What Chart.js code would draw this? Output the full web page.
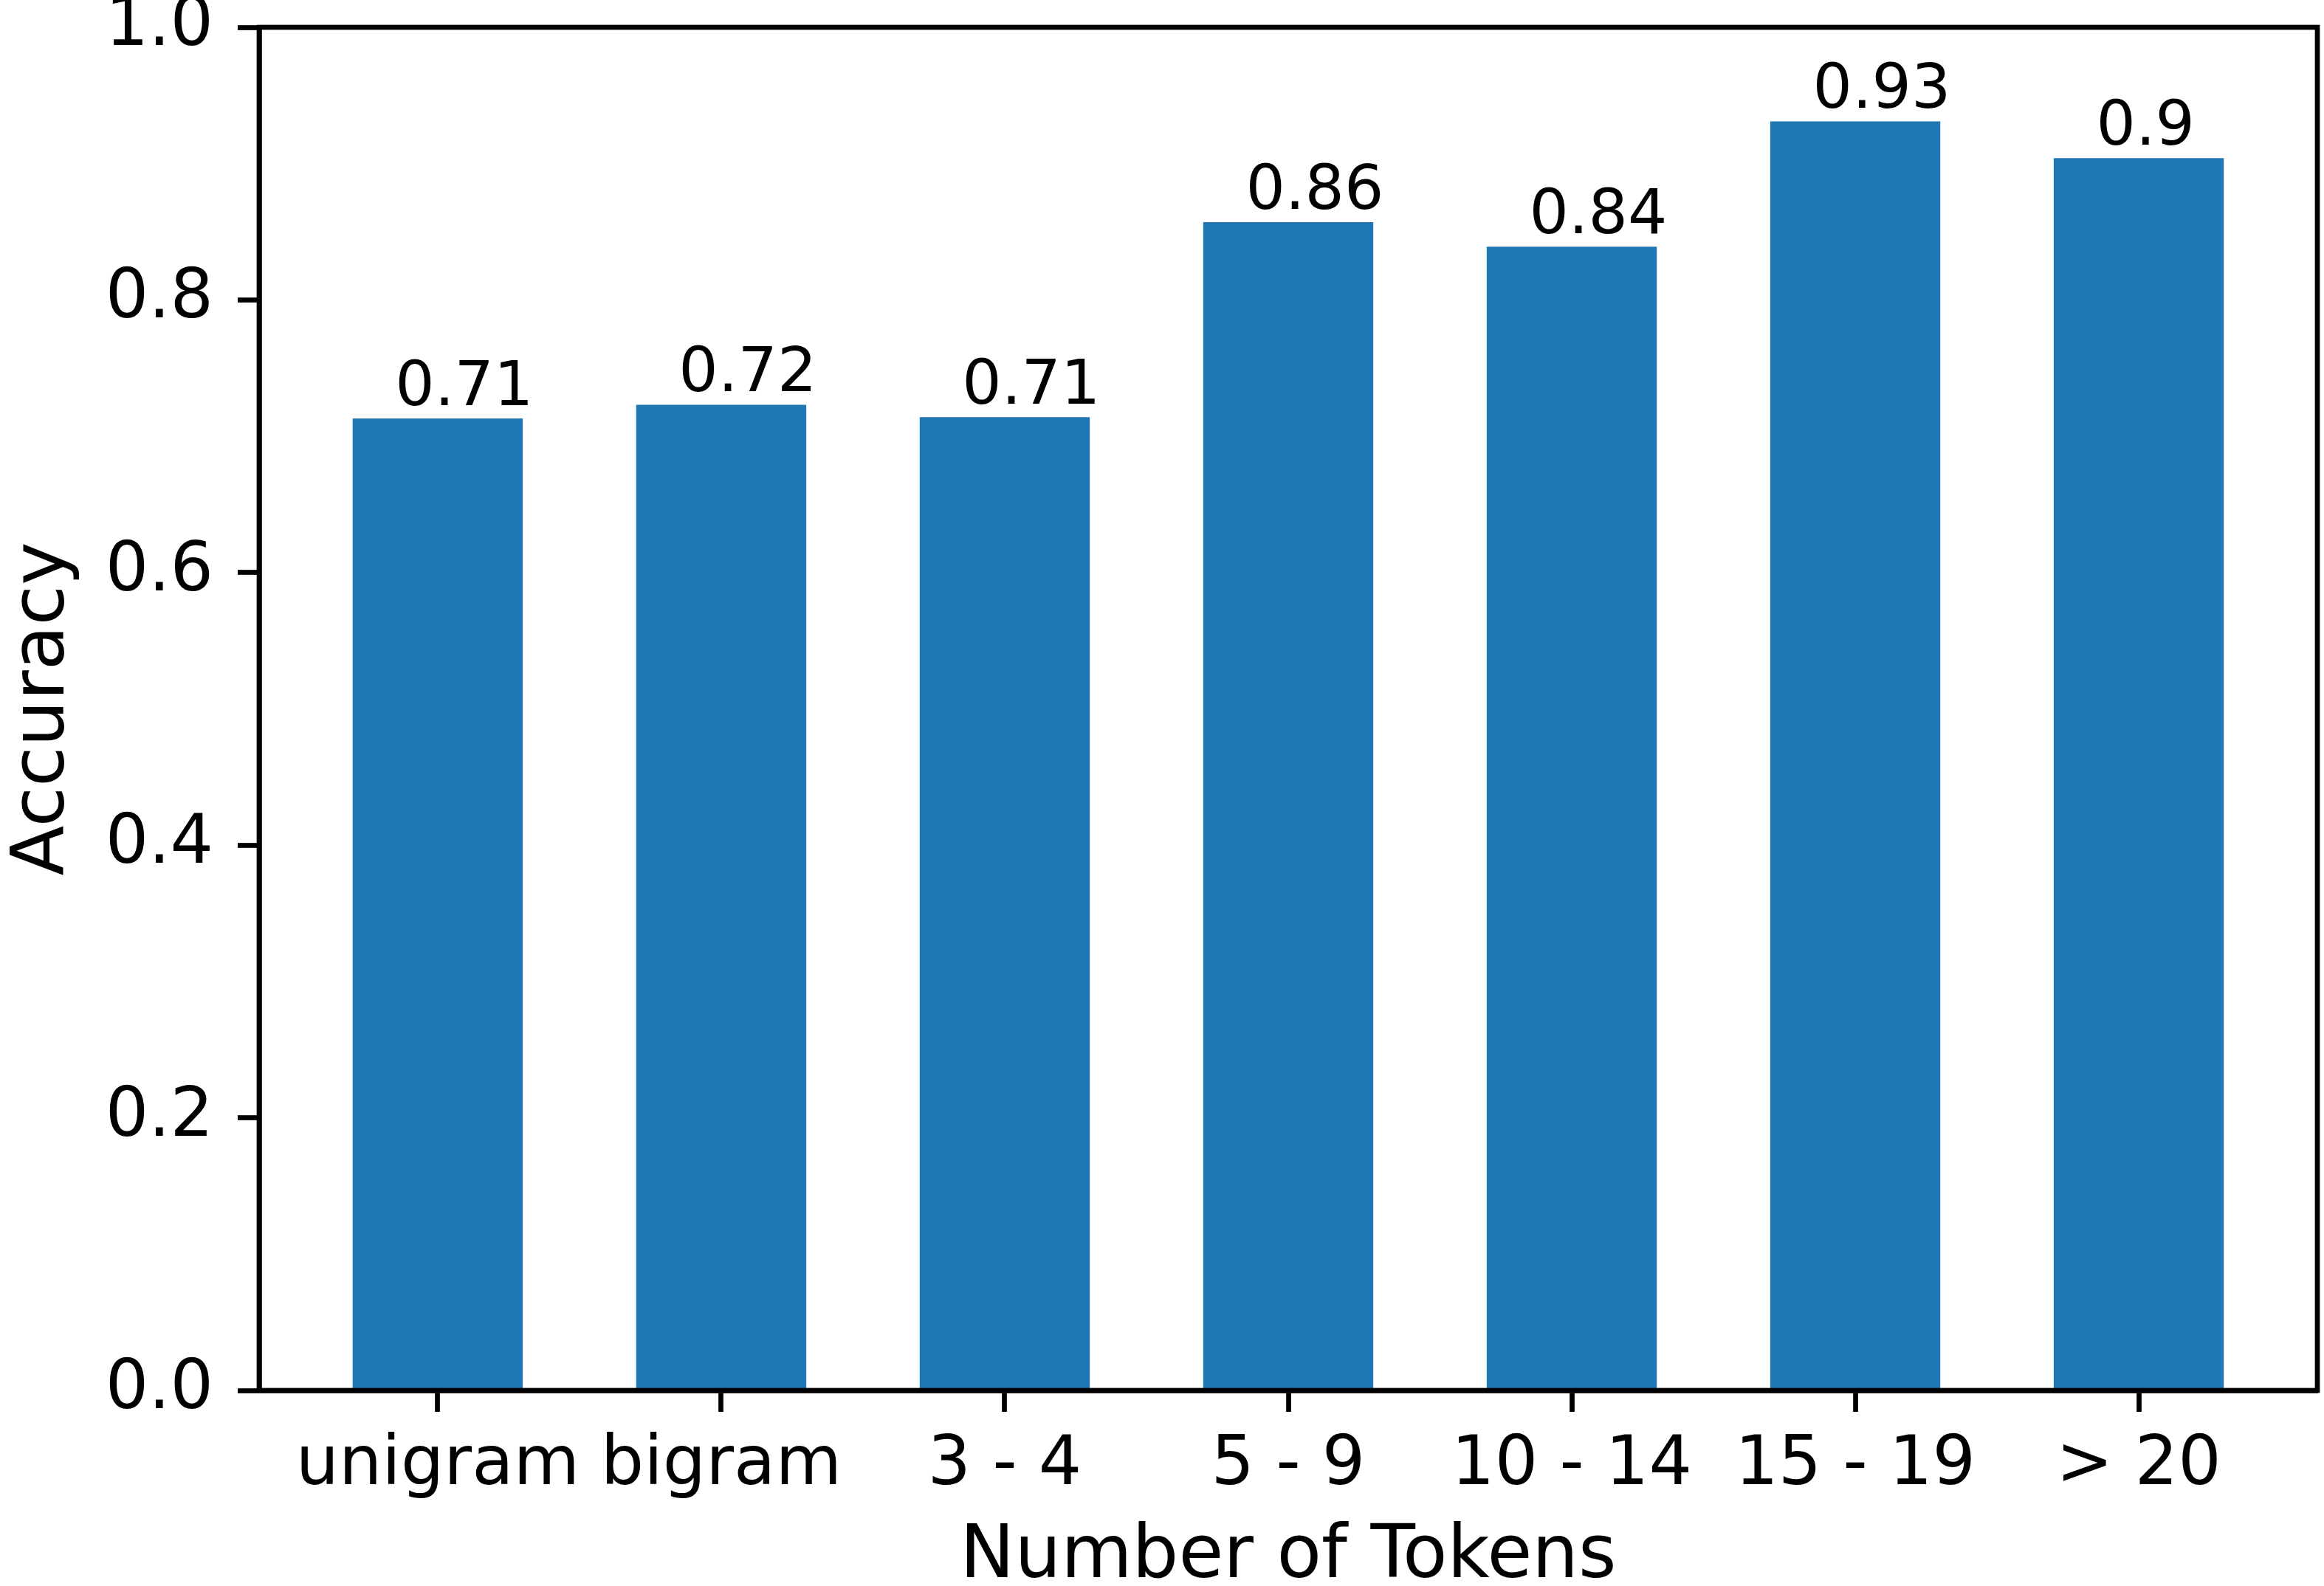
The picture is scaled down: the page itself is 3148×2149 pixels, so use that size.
<!DOCTYPE html>
<html>
<head>
<meta charset="utf-8">
<script src="https://cdn.jsdelivr.net/npm/chart.js@4/dist/chart.umd.min.js"></script>
<style>
  html, body { margin: 0; padding: 0; background: #ffffff; }
  canvas { display: block; }
</style>
</head>
<body>
<canvas id="c" width="3148" height="2149" style="width:3148px;height:2149px"></canvas>
<script>
// ---- data ----
const categories = ["unigram", "bigram", "3 - 4", "5 - 9", "10 - 14", "15 - 19", "> 20"];
const accuracy = [0.713, 0.723, 0.714, 0.857, 0.839, 0.931, 0.904];
const yTicks = [0.0, 0.2, 0.4, 0.6, 0.8, 1.0];
const xLabel = "Number of Tokens";
const yLabel = "Accuracy";

const FONT = "'DejaVu Sans', sans-serif";
const BLUE = "#1f77b4";
const LW = 6.7;

const points = categories.map((c, i) => ({ x: i, y: accuracy[i] }));

const frame = {
  id: 'frame',
  afterDraw(chart) {
    const { ctx, chartArea: a } = chart;
    ctx.save();
    ctx.strokeStyle = '#000';
    ctx.lineWidth = LW;
    ctx.lineJoin = 'miter';
    ctx.strokeRect(a.left, a.top, a.right - a.left, a.bottom - a.top);
    ctx.restore();
  }
};

const valueLabels = {
  id: 'valueLabels',
  afterDatasetsDraw(chart) {
    const { ctx } = chart;
    const xs = chart.scales.x, ys = chart.scales.y;
    ctx.save();
    ctx.fillStyle = '#000';
    ctx.font = "84px " + FONT;
    ctx.textAlign = 'left';
    ctx.textBaseline = 'alphabetic';
    accuracy.forEach((v, i) => {
      const txt = String(Math.round(v * 100) / 100);
      ctx.fillText(txt, xs.getPixelForValue(i - 0.15), ys.getPixelForValue(v + 0.01));
    });
    ctx.restore();
  }
};

new Chart(document.getElementById('c'), {
  type: 'bar',
  data: {
    datasets: [{
      data: points,
      backgroundColor: BLUE,
      borderWidth: 0,
      barPercentage: 0.6,
      categoryPercentage: 1.0
    }]
  },
  options: {
    responsive: false,
    animation: false,
    devicePixelRatio: 1,
    layout: { padding: { top: 37, right: 9, bottom: 0, left: 0 } },
    plugins: { legend: { display: false }, tooltip: { enabled: false } },
    scales: {
      x: {
        type: 'linear',
        offset: false,
        min: -0.63,
        max: 6.63,
        afterFit: (s) => { s.height = 265; s.paddingLeft = 0; s.paddingRight = 0; s.paddingTop = 0; s.paddingBottom = 0; },
        afterBuildTicks: (s) => { s.ticks = categories.map((c, i) => ({ value: i })); },
        grid: { display: true, offset: false, drawOnChartArea: false, drawTicks: true, tickLength: 29, tickWidth: LW, tickColor: '#000' },
        border: { display: true, color: '#000', width: LW },
        ticks: {
          autoSkip: false, maxRotation: 0, minRotation: 0,
          padding: 19,
          color: '#000',
          font: { family: FONT, size: 92 },
          callback: (v) => categories[Math.round(v)]
        },
        title: {
          display: true, text: xLabel, color: '#000',
          font: { family: FONT, size: 99, lineHeight: 1 },
          padding: { top: 0, bottom: -12 }
        }
      },
      y: {
        type: 'linear',
        min: 0,
        max: 1,
        afterFit: (s) => { s.width = 351; s.paddingLeft = 0; s.paddingRight = 0; s.paddingTop = 0; s.paddingBottom = 0; },
        afterBuildTicks: (s) => { s.ticks = yTicks.map(v => ({ value: v })); },
        grid: { display: true, drawOnChartArea: false, drawTicks: true, tickLength: 29, tickWidth: LW, tickColor: '#000' },
        border: { display: true, color: '#000', width: LW },
        ticks: {
          padding: 33,
          color: '#000',
          font: { family: FONT, size: 92 },
          callback: (v) => Number(v).toFixed(1)
        },
        title: {
          display: true, text: yLabel, color: '#000',
          font: { family: FONT, size: 99, lineHeight: 1 },
          padding: { top: 11, bottom: 0 }
        }
      }
    }
  },
  plugins: [frame, valueLabels]
});
</script>
</body>
</html>
